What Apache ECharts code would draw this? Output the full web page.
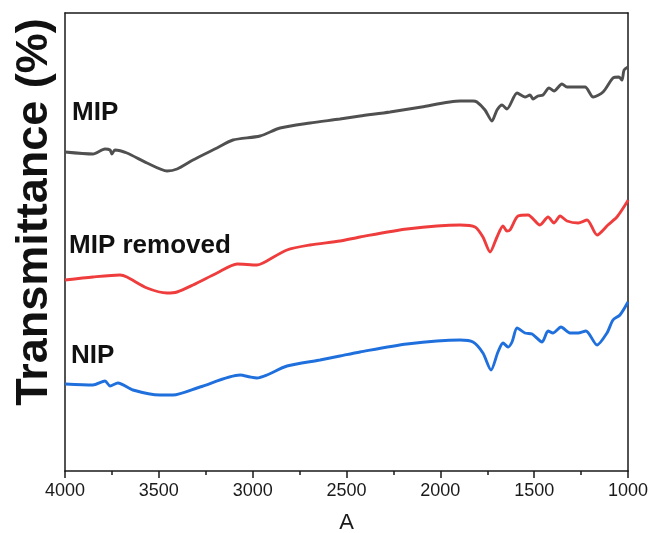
<!DOCTYPE html>
<html>
<head>
<meta charset="utf-8">
<script src="https://cdn.jsdelivr.net/npm/echarts@6/dist/echarts.min.js"></script>
<style>
  html, body { margin: 0; padding: 0; background: #fff; }
  #chart { width: 649px; height: 533px; }
</style>
</head>
<body>
<div id="chart"></div>
<script>
// FTIR spectra, offset vertically (arbitrary transmittance units)
const mipWn = [4000, 3851, 3787, 3760, 3750, 3734, 3670, 3563, 3456, 3403, 3318, 3190, 3105, 2961, 2854, 2694, 2535, 2428, 2268, 2100, 1895, 1826, 1805, 1762, 1725, 1698, 1671, 1645, 1591, 1549, 1522, 1506, 1480, 1453, 1421, 1394, 1352, 1325, 1229, 1186, 1133, 1080, 1048, 1032, 1021, 1000];
const mipT  = [319, 317, 322, 321, 317, 321, 318, 308, 300, 302, 311, 323, 331, 335, 343, 348, 352, 355, 359, 364, 370, 370, 369, 361, 350, 361, 366, 362, 378, 374, 376, 372, 375, 376, 383, 380, 387, 384, 384, 374, 379, 393, 394, 391, 401, 404];

const removedWn = [4000, 3851, 3707, 3670, 3563, 3456, 3403, 3318, 3190, 3083, 2977, 2945, 2817, 2694, 2535, 2428, 2178, 1895, 1815, 1773, 1735, 1698, 1666, 1645, 1629, 1586, 1533, 1469, 1426, 1394, 1362, 1325, 1266, 1218, 1165, 1107, 1059, 1005, 1000];
const removedT  = [191, 194, 196, 194, 183, 178, 179, 186, 198, 207, 206, 208, 221, 226, 230, 234, 242, 246, 244, 234, 219, 234, 245, 240, 241, 255, 256, 246, 254, 248, 255, 250, 248, 251, 236, 246, 254, 269, 271];

const nipWn = [4000, 3851, 3787, 3760, 3718, 3638, 3494, 3425, 3281, 3067, 3014, 2977, 2924, 2817, 2641, 2535, 2428, 2178, 1895, 1826, 1773, 1730, 1693, 1666, 1639, 1618, 1591, 1549, 1511, 1458, 1426, 1400, 1357, 1309, 1266, 1224, 1165, 1112, 1080, 1043, 1000];
const nipT  = [87, 86, 90, 85, 88, 81, 76, 76, 84, 96, 94, 93, 96, 105, 111, 115, 119, 127, 131, 129, 118, 101, 119, 128, 124, 129, 143, 138, 137, 129, 140, 138, 144, 138, 138, 140, 126, 138, 151, 156, 169];

const seriesNames = ['MIP', 'MIP removed', 'NIP'];
const seriesColors = ['#505050', '#ef3c3c', '#1f6fdd'];
const xTicks = { min: 1000, max: 4000, step: 500 };

const pair = (xs, ys) => xs.map((x, i) => [x, ys[i]]);
const curves = [pair(mipWn, mipT), pair(removedWn, removedT), pair(nipWn, nipT)];

const FONT = '"Liberation Sans", Arial, sans-serif';
const INK = '#1a1a1a';
const chart = echarts.init(document.getElementById('chart'), null, { renderer: 'canvas' });

const frameLine = { show: true, onZero: false, lineStyle: { color: INK, width: 1.5 } };
const hidden = { axisTick: { show: false }, axisLabel: { show: false }, splitLine: { show: false } };

chart.setOption({
  animation: false,
  backgroundColor: '#fff',
  grid: { left: 65, right: 21, top: 13, bottom: 62, containLabel: false, outerBoundsMode: 'none' },
  xAxis: [{
    type: 'value',
    min: xTicks.min, max: xTicks.max, interval: xTicks.step,
    inverse: true,
    name: 'A',
    nameLocation: 'middle',
    nameGap: 41,
    nameTextStyle: { fontFamily: FONT, fontSize: 22, color: INK },
    axisLine: frameLine,
    axisTick: { show: true, length: 7, lineStyle: { color: INK, width: 1.5 } },
    minorTick: { show: true, splitNumber: 2, length: 4, lineStyle: { color: INK, width: 1.5 } },
    axisLabel: {
      fontFamily: FONT, fontSize: 18, color: INK, margin: 11,
      showMinLabel: true, showMaxLabel: true,
      formatter: (v) => String(v)
    },
    splitLine: { show: false }
  }, Object.assign({
    type: 'value',
    min: xTicks.min, max: xTicks.max, inverse: true,
    position: 'top',
    axisLine: frameLine
  }, hidden)],
  yAxis: [Object.assign({
    type: 'value', min: 0, max: 458, position: 'left',
    axisLine: frameLine
  }, hidden), Object.assign({
    type: 'value', min: 0, max: 458, position: 'right',
    axisLine: frameLine
  }, hidden)],
  series: curves.map((data, i) => ({
    name: seriesNames[i],
    type: 'line',
    data: data,
    smooth: 0.25,
    showSymbol: false,
    lineStyle: { color: seriesColors[i], width: 2.9 },
    z: 3
  })),
  graphic: [
    {
      type: 'text', x: 35, y: 212, rotation: Math.PI / 2,
      style: {
        text: 'Transmittance (%)', fontFamily: FONT, fontWeight: 'bold', fontSize: 45,
        fill: '#111', textAlign: 'center', textVerticalAlign: 'middle'
      }
    },
    { type: 'text', x: 72, y: 126, style: { text: 'MIP', fontFamily: FONT, fontWeight: 'bold', fontSize: 26, fill: '#111', textVerticalAlign: 'bottom' } },
    { type: 'text', x: 69, y: 259, style: { text: 'MIP removed', fontFamily: FONT, fontWeight: 'bold', fontSize: 26, fill: '#111', textVerticalAlign: 'bottom' } },
    { type: 'text', x: 71, y: 369, style: { text: 'NIP', fontFamily: FONT, fontWeight: 'bold', fontSize: 26, fill: '#111', textVerticalAlign: 'bottom' } }
  ]
});
</script>
</body>
</html>
